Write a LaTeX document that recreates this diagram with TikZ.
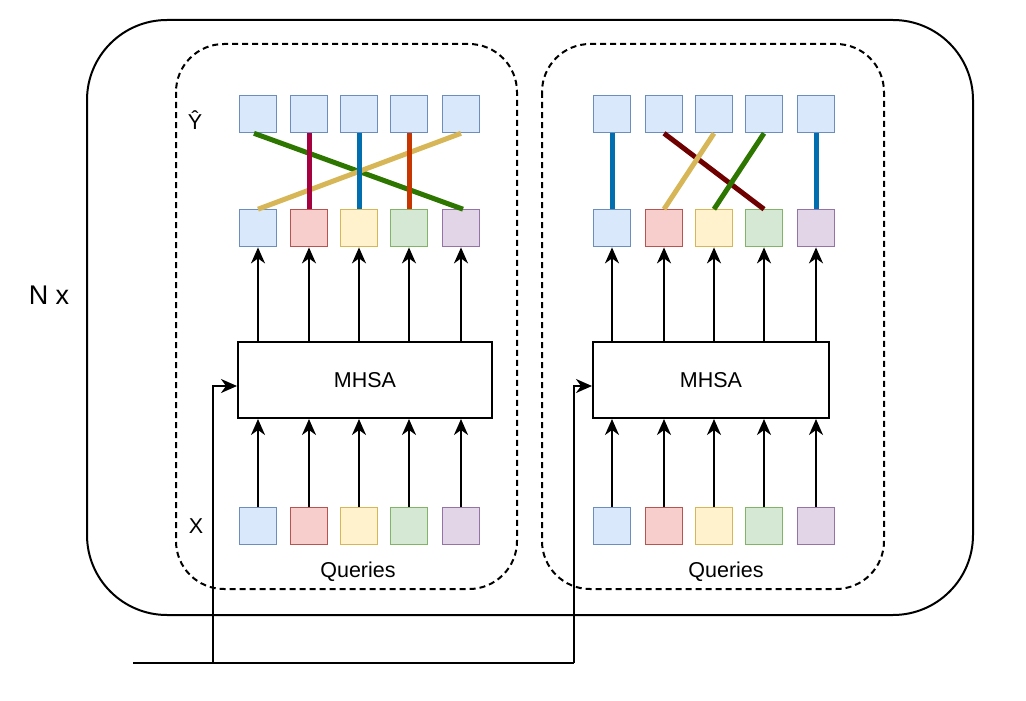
\documentclass[tikz,border=0pt]{standalone}
\usepackage{fontspec}
\setmainfont{Liberation Sans}
\usepackage{xcolor}
\usetikzlibrary{arrows.meta,calc,positioning}

% square fills and strokes
\definecolor{qblueF}{HTML}{DAE8FC}\definecolor{qblueD}{HTML}{6C8EBF}
\definecolor{qredF}{HTML}{F8CECC}\definecolor{qredD}{HTML}{B85450}
\definecolor{qyelF}{HTML}{FFF2CC}\definecolor{qyelD}{HTML}{D6B656}
\definecolor{qgrnF}{HTML}{D5E8D4}\definecolor{qgrnD}{HTML}{82B366}
\definecolor{qpurF}{HTML}{E1D5E7}\definecolor{qpurD}{HTML}{9673A6}
% match lines
\definecolor{mGreen}{HTML}{2D7600}
\definecolor{mGold}{HTML}{D6B656}
\definecolor{mCrimson}{HTML}{A50040}
\definecolor{mBlue}{HTML}{006EAF}
\definecolor{mOrange}{HTML}{C73500}
\definecolor{mMaroon}{HTML}{6F0000}

\tikzset{
  tok/.style={draw=#1D, fill=#1F, line width=1.2pt, minimum size=37pt, inner sep=0pt},
  attn/.style={draw, line width=2pt, minimum height=76pt, inner sep=0pt, font=\fontsize{21.5}{25}\selectfont},
  flow/.style={line width=2pt, -{Stealth[length=16pt,width=14pt,inset=5pt]}},
  wire/.style={line width=2pt},
  match/.style={line width=5pt, #1},
  lbl/.style={inner sep=0pt, font=\fontsize{21.5}{25}\selectfont},
}

\begin{document}
\begin{tikzpicture}[x=1pt,y=1pt,yscale=-1]
\useasboundingbox (0,0) rectangle (1026,701);

%Shape: Rounded Rectangle [outer]
\draw[line width=2pt, rounded corners=80pt] (87,20) rectangle (973,615);
%Shape: Rounded Rectangle [dashed blocks]
\draw[line width=2pt, dash pattern=on 6pt off 4pt, rounded corners=48pt] (176,44) rectangle (517,589);
\draw[line width=2pt, dash pattern=on 6pt off 4pt, rounded corners=48pt] (542,44) rectangle (884,589);

%Shape: MHSA boxes
\node[attn, minimum width=254pt] (lmhsa) at (365,380) {MHSA};
\node[attn, minimum width=236pt] (rmhsa) at (711,380) {MHSA};

%Shape: Squares, left block
\node[tok=qblue] (ly1) at (258,114.2) {};
\node[tok=qblue] (ly2) at (309,114.2) {};
\node[tok=qblue] (ly3) at (359,114.2) {};
\node[tok=qblue] (ly4) at (409,114.2) {};
\node[tok=qblue] (ly5) at (461,114.2) {};
\node[tok=qblue] (lm1) at (258,228.3) {};
\node[tok=qred]  (lm2) at (309,228.3) {};
\node[tok=qyel]  (lm3) at (359,228.3) {};
\node[tok=qgrn]  (lm4) at (409,228.3) {};
\node[tok=qpur]  (lm5) at (461,228.3) {};
\node[tok=qblue] (lx1) at (258,526) {};
\node[tok=qred]  (lx2) at (309,526) {};
\node[tok=qyel]  (lx3) at (359,526) {};
\node[tok=qgrn]  (lx4) at (409,526) {};
\node[tok=qpur]  (lx5) at (461,526) {};

%Shape: Squares, right block
\node[tok=qblue] (ry1) at (612,114.2) {};
\node[tok=qblue] (ry2) at (664,114.2) {};
\node[tok=qblue] (ry3) at (714,114.2) {};
\node[tok=qblue] (ry4) at (764,114.2) {};
\node[tok=qblue] (ry5) at (816,114.2) {};
\node[tok=qblue] (rm1) at (612,228.3) {};
\node[tok=qred]  (rm2) at (664,228.3) {};
\node[tok=qyel]  (rm3) at (714,228.3) {};
\node[tok=qgrn]  (rm4) at (764,228.3) {};
\node[tok=qpur]  (rm5) at (816,228.3) {};
\node[tok=qblue] (rx1) at (612,526) {};
\node[tok=qred]  (rx2) at (664,526) {};
\node[tok=qyel]  (rx3) at (714,526) {};
\node[tok=qgrn]  (rx4) at (764,526) {};
\node[tok=qpur]  (rx5) at (816,526) {};

%Straight Lines: arrows through MHSA
\foreach \i in {1,...,5}{
  \draw[flow] (lx\i.north) -- (lx\i.north |- lmhsa.south);
  \draw[flow] (lm\i.south |- lmhsa.north) -- (lm\i.south);
  \draw[flow] (rx\i.north) -- (rx\i.north |- rmhsa.south);
  \draw[flow] (rm\i.south |- rmhsa.north) -- (rm\i.south);
}

%Straight Lines: matching, left block
\draw[match=mGreen] ($(ly1.south)+(-4,0)$) -- ($(lm5.north)+(2,0)$);
\draw[match=mGold] (lm1.north) -- (ly5.south);
\draw[match=mCrimson] (ly2.south) -- (lm2.north);
\draw[match=mBlue] (ly3.south) -- (lm3.north);
\draw[match=mOrange] (ly4.south) -- (lm4.north);

%Straight Lines: matching, right block
\draw[match=mBlue] (ry1.south) -- (rm1.north);
\draw[match=mMaroon] (ry2.south) -- (rm4.north);
\draw[match=mGold] (ry3.south) -- (rm2.north);
\draw[match=mGreen] (ry4.south) -- (rm3.north);
\draw[match=mBlue] (ry5.south) -- (rm5.north);

%Straight Lines: input
\coordinate (in) at (133,663);
\coordinate (split) at (213,663);
\coordinate (bend) at (574,663);
\draw[wire] (in) -- (bend);
\draw[flow] (bend) |- ($(rmhsa.west)+(0,6)$);
\draw[flow] (split) |- ($(lmhsa.west)+(0,6)$);

% Text Node
\node[lbl, font=\fontsize{27}{32}\selectfont] (nx) at (49,295) {N x};
% Text Node
\node[lbl] (yhat) at (195,120) {Ŷ};
% Text Node
\node[lbl] (xlbl) at (196,526) {X};
% Text Node
\node[lbl, anchor=base] (lq) at (358,577) {Queries};
% Text Node
\node[lbl, anchor=base] (rq) at (726,577) {Queries};

\end{tikzpicture}
\end{document}
